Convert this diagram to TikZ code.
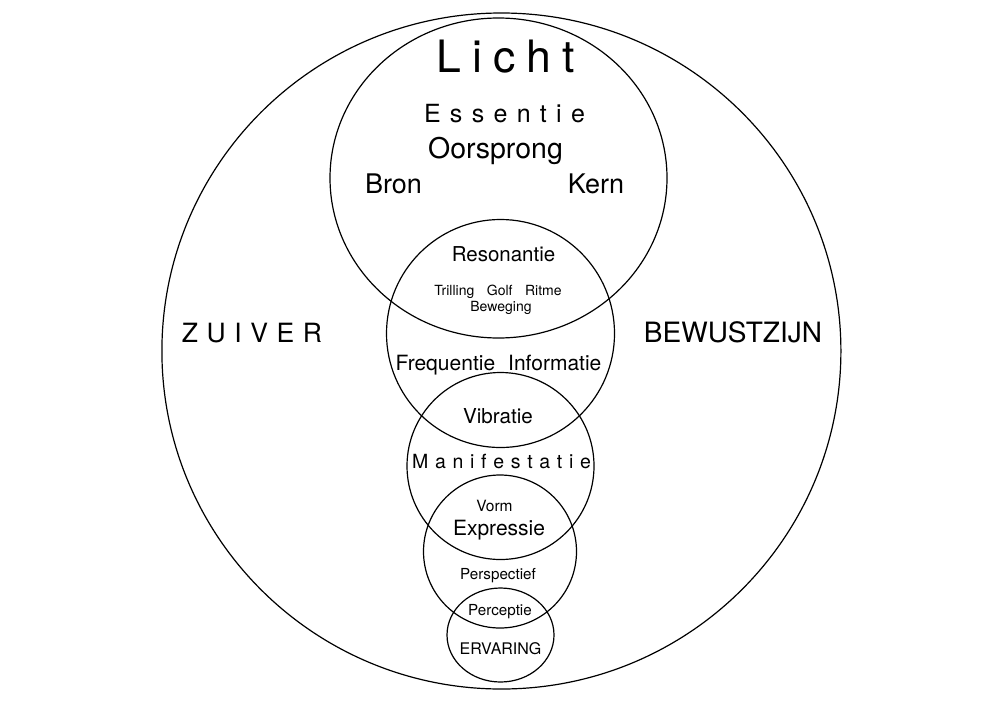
\documentclass[tikz,border=0pt]{standalone}
\usepackage{fontspec}
\setmainfont{TeX Gyre Heros}
\usetikzlibrary{shapes.geometric}
\tikzset{
  ring/.style={ellipse, draw, line width=1.2pt, inner sep=0pt, outer sep=0pt},
  lbl/.style={anchor=base, inner sep=0pt, outer sep=0pt, font=\fontsize{#1}{#1}\selectfont}
}
\begin{document}
\begin{tikzpicture}[x=1pt,y=-1pt]
\useasboundingbox (0,0) rectangle (1000,707);
\node[ring, minimum width=679pt, minimum height=676pt] (outer) at (501.4,351) {};
\node[ring, minimum width=337pt, minimum height=320pt] (licht) at (498.5,178) {};
\node[ring, minimum size=228pt] (reson) at (500.5,333.5) {};
\node[ring, minimum size=187pt] (manif) at (500.5,466) {};
\node[ring, minimum size=153pt] (expr) at (500,551.5) {};
\node[ring, minimum width=107pt, minimum height=94pt] (erv) at (500.5,635) {};

\node[lbl=44.6] (tLicht) at (506,72) {L\kern11pt i\kern11pt c\kern11pt h\kern11pt t};
\node[lbl=25] (tEss) at (504.5,122) {E\kern9.3pt s\kern9.3pt s\kern9.3pt e\kern9.3pt n\kern9.3pt t\kern9.3pt i\kern9.3pt e};
\node[lbl=28.5] (tOors) at (495.5,158) {Oorsprong};
\node[lbl=27] (tBron) at (393.5,193) {Bron};
\node[lbl=27] (tKern) at (596,193) {Kern};
\node[lbl=20.5] (tReson) at (503.5,261) {Resonantie};
\node[lbl=14] (tTril) at (498,295) {Trilling\hspace{12.5pt}Golf\hspace{12.5pt}Ritme};
\node[lbl=14] (tBew) at (501,311.5) {Beweging};
\node[lbl=21] (tFreq) at (498.5,370) {Frequentie\hspace{13pt}Informatie};
\node[lbl=20.6] (tVib) at (498,423) {Vibratie};
\node[lbl=19.5] (tManif) at (501.5,468) {M\kern6.7pt a\kern6.7pt n\kern6.7pt i\kern6.7pt f\kern6.7pt e\kern6.7pt s\kern6.7pt t\kern6.7pt a\kern6.7pt t\kern6.7pt i\kern6.7pt e};
\node[lbl=15.5] (tVorm) at (494.5,511) {Vorm};
\node[lbl=21] (tExpr) at (499,535) {Expressie};
\node[lbl=15.2] (tPersp) at (498,579) {Perspectief};
\node[lbl=15.2] (tPerc) at (500,615) {Perceptie};
\node[lbl=16] (tErv) at (500.5,654) {ERVARING};
\node[lbl=26.5] (tZuiver) at (252,342) {Z\kern8.6pt U\kern8.6pt I\kern8.6pt V\kern8.6pt E\kern8.6pt R};
\node[lbl=28] (tBewust) at (733,342) {BEWUSTZIJN};
\end{tikzpicture}
\end{document}
